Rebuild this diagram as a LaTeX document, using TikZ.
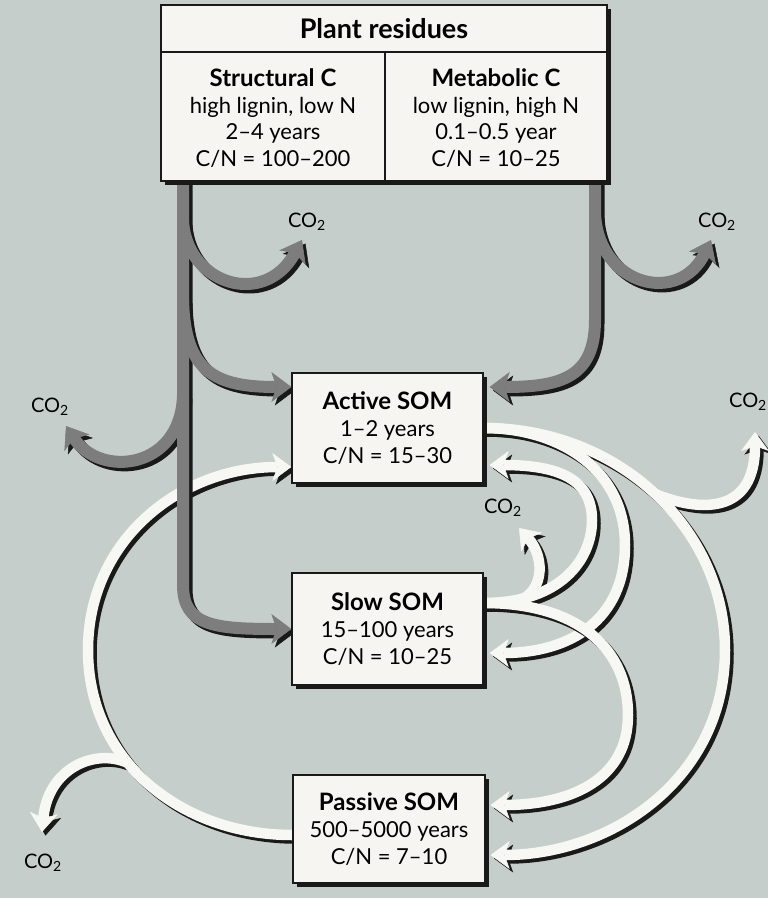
\documentclass[tikz,border=0pt]{standalone}
\usepackage{fontspec}
\setmainfont{Lato}
\usetikzlibrary{arrows.meta,shadows,calc}
\pgfdeclarelayer{bg}
\pgfsetlayers{bg,main}
\definecolor{bgc}{RGB}{198,206,203}
\definecolor{grayarrow}{RGB}{125,125,125}
\definecolor{whitearrow}{RGB}{247,247,243}
\definecolor{shade}{RGB}{25,25,25}
\definecolor{boxfill}{RGB}{246,245,241}
\newcommand\boxhead[1]{{\fontsize{24}{27}\selectfont\bfseries #1}}
\tikzset{
  box/.style={draw=shade, line width=1.3pt, fill=boxfill, inner sep=0pt, align=center,
    font=\fontsize{22}{27}\selectfont,
    drop shadow={shadow xshift=4pt, shadow yshift=-4pt, opacity=1, fill=shade}},
  coltext/.style={align=center, font=\fontsize{22}{26.5}\selectfont},
  co2/.style={font=\fontsize{20}{22}\selectfont, inner sep=0pt},
  gtip/.style={-{Stealth[length=20pt,width=30pt,inset=5pt,line width=0.5pt]}},
  wtip/.style={-{Stealth[length=19pt,width=28pt,inset=5pt,line width=0.5pt]}},
  gfl/.style={draw=grayarrow, line width=12pt, gtip},
  gsh/.style={draw=shade, line width=12pt, gtip},
  wfl/.style={draw=whitearrow, line width=10.5pt, wtip},
  wsh/.style={draw=shade, line width=10.5pt, wtip},
  sh/.style={transform canvas={shift={(3.5,3.5)}}},
}
\begin{document}
\begin{tikzpicture}[x=1pt,y=-1pt]
\useasboundingbox (0,0) rectangle (768,898);

% ---------- boxes ----------
\node[box, minimum width=446pt, minimum height=176pt] (plant) at (384,93) {};
\node[font=\bfseries\fontsize{27}{29}\selectfont] (hdr) at (384,29) {Plant residues};
\draw[line width=1.3pt, draw=shade] (plant.west |- 0,52) -- (plant.east |- 0,52);
\draw[line width=1.3pt, draw=shade] (385,52) -- (plant.south -| 385,0);
\node[coltext] (str) at (273,118) {\boxhead{Structural C}\\high lignin, low N\\2–4 years\\C/N = 100–200};
\node[coltext] (met) at (496,118) {\boxhead{Metabolic C}\\low lignin, high N\\0.1–0.5 year\\C/N = 10–25};

\node[box, minimum width=191pt, minimum height=110pt] (act) at (387.5,428)
  {\boxhead{Active SOM}\\1–2 years\\C/N = 15–30};
\node[box, minimum width=191pt, minimum height=112pt] (slow) at (387.5,629)
  {\boxhead{Slow SOM}\\15–100 years\\C/N = 10–25};
\node[box, minimum width=192pt, minimum height=108pt] (pas) at (389,829)
  {\boxhead{Passive SOM}\\500–5000 years\\C/N = 7–10};

% ---------- CO2 labels ----------
\node[co2] (c1) at (307,222) {CO\textsubscript{2}};
\node[co2] (c2) at (717,222) {CO\textsubscript{2}};
\node[co2] (c3) at (50,407) {CO\textsubscript{2}};
\node[co2] (c4) at (748,402) {CO\textsubscript{2}};
\node[co2] (c5) at (503,508) {CO\textsubscript{2}};
\node[co2] (c6) at (43,863) {CO\textsubscript{2}};

\coordinate (tA) at (302,240);
\coordinate (tB) at (711,240);
\coordinate (tL) at (66,426);
\coordinate (tR) at (755,432);
\coordinate (tM) at (519,528);
\coordinate (tBL) at (42,832);

% ---------- paths ----------
\def\pSt{(plant.south -| 183,0) -- (183,585) .. controls (183,626) and (215,629) .. (slow.west)}
\def\pSc{(183,222) .. controls (188,285) and (265,308) .. (tA)}
\def\pSa{(183,300) .. controls (185,372) and (215,387) .. (act.west |- 0,387)}
\def\pSl{(183,395) .. controls (181,470) and (100,478) .. (tL)}
\def\pMt{(plant.south -| 595,0) -- (595,320) .. controls (595,378) and (560,387) .. ($(act.east |- 0,387)+(6,0)$)}
\def\pMc{(595,215) .. controls (600,287) and (680,305) .. (tB)}
\def\pAp{(act.east) .. controls (620,428) and (725,530) .. (725,650) .. controls (725,780) and (610,855) .. ($(pas.east |- 0,855)+(5,0)$)}
\def\pAc{(655,494) .. controls (700,512) and (755,515) .. (tR)}
\def\pAs{(act.east) .. controls (560,428) and (625,470) .. (625,545) .. controls (625,620) and (570,653) .. ($(slow.east |- 0,653)+(6,0)$)}
\def\pLa{(slow.east |- 0,603) .. controls (560,603) and (592,560) .. (592,520) .. controls (592,480) and (560,465) .. ($(act.east |- 0,465)+(6,0)$)}
\def\pLp{(slow.east |- 0,603) .. controls (580,603) and (628,650) .. (628,715) .. controls (628,780) and (570,805) .. ($(pas.east |- 0,805)+(5,0)$)}
\def\pLc{(510,603) .. controls (545,598) and (546,558) .. (tM)}
\def\pPa{(pas.west |- 0,835) .. controls (180,835) and (88,760) .. (88,650) .. controls (88,540) and (180,467) .. (act.west |- 0,467)}
\def\pPc{(128,763) .. controls (95,748) and (48,768) .. (tBL)}

\begin{pgfonlayer}{bg}
\fill[bgc] (0,0) rectangle (768,898);
% passive group
\begin{scope}[sh]\draw[wsh] \pPa; \draw[wsh] \pPc;\end{scope}
\draw[wfl] \pPa; \draw[wfl] \pPc;
% active group
\begin{scope}[sh]\draw[wsh] \pAp; \draw[wsh] \pAc; \draw[wsh] \pAs;\end{scope}
\draw[wfl] \pAp; \draw[wfl] \pAc; \draw[wfl] \pAs;
% slow group
\begin{scope}[sh]\draw[wsh] \pLa; \draw[wsh] \pLp; \draw[wsh] \pLc;\end{scope}
\draw[wfl] \pLa; \draw[wfl] \pLp; \draw[wfl] \pLc;
% structural group
\begin{scope}[sh]\draw[gsh] \pSt; \draw[gsh] \pSc; \draw[gsh] \pSa; \draw[gsh] \pSl;\end{scope}
\draw[gfl] \pSt; \draw[gfl] \pSc; \draw[gfl] \pSa; \draw[gfl] \pSl;
% metabolic group
\begin{scope}[sh]\draw[gsh] \pMt; \draw[gsh] \pMc;\end{scope}
\draw[gfl] \pMt; \draw[gfl] \pMc;
\end{pgfonlayer}
\end{tikzpicture}
\end{document}
